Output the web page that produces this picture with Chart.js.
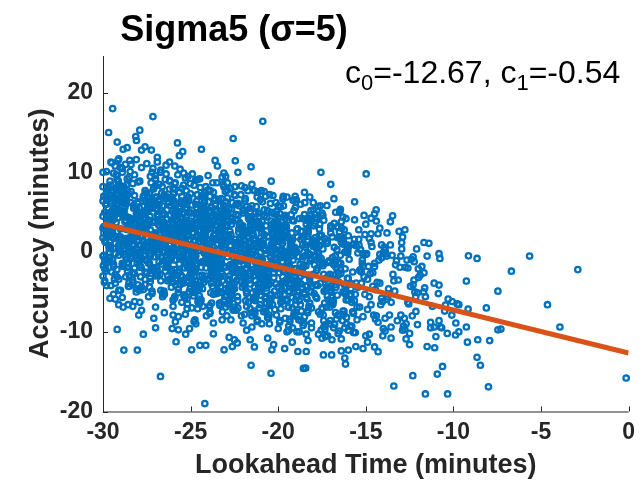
<!DOCTYPE html>
<html>
<head>
<meta charset="utf-8">
<script src="https://cdn.jsdelivr.net/npm/chart.js@4.4.1/dist/chart.umd.min.js"></script>
<style>
  html, body { margin: 0; padding: 0; background: #fff; }
  #wrap { width: 642px; height: 486px; }
</style>
</head>
<body>
<div id="wrap"><canvas id="sigmaChart"></canvas></div>
<script>
// lookahead time (x) and accuracy (y), one row per group of 10
const lookahead = [
  -29.9,-29.4,-29.7,-29.1,-29.5,-29.8,-29.2,-29.6,-29.3,-29.0,
  -29.3,-29.8,-29.1,-29.6,-29.0,-29.5,-29.9,-29.2,-29.7,-29.4,
  -29.6,-29.2,-29.9,-29.4,-29.8,-29.1,-29.5,-29.0,-29.3,-29.7,
  -29.1,-29.7,-29.4,-29.9,-29.2,-29.6,-29.0,-29.8,-29.5,-29.3,
  -29.8,-29.5,-29.0,-29.3,-29.7,-29.4,-29.9,-29.1,-29.6,-29.2,
  -29.4,-29.0,-29.6,-29.8,-29.3,-29.9,-29.1,-29.7,-29.2,-29.5,
  -29.7,-29.3,-29.5,-29.2,-29.9,-29.0,-29.4,-29.6,-29.1,-29.8,
  -28.6,-28.2,-28.9,-28.4,-28.8,-28.1,-28.5,-28.0,-28.3,-28.7,
  -28.8,-28.5,-28.0,-28.3,-28.7,-28.4,-28.9,-28.1,-28.6,-28.2,
  -28.7,-28.3,-28.5,-28.2,-28.9,-28.0,-28.4,-28.6,-28.1,-28.8,
  -28.3,-28.8,-28.1,-28.6,-28.0,-28.5,-28.9,-28.2,-28.7,-28.4,
  -28.1,-28.7,-28.4,-28.9,-28.2,-28.6,-28.0,-28.8,-28.5,-28.3,
  -28.4,-28.0,-28.6,-28.8,-28.3,-28.9,-28.1,-28.7,-28.2,-28.5,
  -28.9,-28.4,-28.7,-28.1,-28.5,-28.8,-28.2,-28.6,-28.3,-28.0,
  -27.8,-27.5,-27.0,-27.3,-27.7,-27.4,-27.9,-27.1,-27.6,-27.2,
  -27.9,-27.4,-27.7,-27.1,-27.5,-27.8,-27.2,-27.6,-27.3,-27.0,
  -27.4,-27.0,-27.6,-27.8,-27.3,-27.9,-27.1,-27.7,-27.2,-27.5,
  -27.3,-27.8,-27.1,-27.6,-27.0,-27.5,-27.9,-27.2,-27.7,-27.4,
  -27.7,-27.3,-27.5,-27.2,-27.9,-27.0,-27.4,-27.6,-27.1,-27.8,
  -27.6,-27.2,-27.9,-27.4,-27.8,-27.1,-27.5,-27.0,-27.3,-27.7,
  -27.1,-27.7,-27.4,-27.9,-27.2,-27.6,-27.0,-27.8,-27.5,-27.3,
  -26.7,-26.3,-26.5,-26.2,-26.9,-26.0,-26.4,-26.6,-26.1,-26.8,
  -26.4,-26.0,-26.6,-26.8,-26.3,-26.9,-26.1,-26.7,-26.2,-26.5,
  -26.8,-26.5,-26.0,-26.3,-26.7,-26.4,-26.9,-26.1,-26.6,-26.2,
  -26.1,-26.7,-26.4,-26.9,-26.2,-26.6,-26.0,-26.8,-26.5,-26.3,
  -26.6,-26.2,-26.9,-26.4,-26.8,-26.1,-26.5,-26.0,-26.3,-26.7,
  -26.3,-26.8,-26.1,-26.6,-26.0,-26.5,-26.9,-26.2,-26.7,-26.4,
  -26.9,-26.4,-26.7,-26.1,-26.5,-26.8,-26.2,-26.6,-26.3,-26.0,
  -25.3,-25.8,-25.1,-25.6,-25.0,-25.5,-25.9,-25.2,-25.7,-25.4,
  -25.1,-25.7,-25.4,-25.9,-25.2,-25.6,-25.0,-25.8,-25.5,-25.3,
  -25.4,-25.0,-25.6,-25.8,-25.3,-25.9,-25.1,-25.7,-25.2,-25.5,
  -25.9,-25.4,-25.7,-25.1,-25.5,-25.8,-25.2,-25.6,-25.3,-25.0,
  -25.6,-25.2,-25.9,-25.4,-25.8,-25.1,-25.5,-25.0,-25.3,-25.7,
  -25.8,-25.5,-25.0,-25.3,-25.7,-25.4,-25.9,-25.1,-25.6,-25.2,
  -25.7,-25.3,-25.5,-25.2,-25.9,-25.0,-25.4,-25.6,-25.1,-25.8,
  -24.1,-24.7,-24.4,-24.9,-24.2,-24.6,-24.0,-24.8,-24.5,-24.3,
  -24.7,-24.3,-24.5,-24.2,-24.9,-24.0,-24.4,-24.6,-24.1,-24.8,
  -24.6,-24.2,-24.9,-24.4,-24.8,-24.1,-24.5,-24.0,-24.3,-24.7,
  -24.4,-24.0,-24.6,-24.8,-24.3,-24.9,-24.1,-24.7,-24.2,-24.5,
  -24.3,-24.8,-24.1,-24.6,-24.0,-24.5,-24.9,-24.2,-24.7,-24.4,
  -24.8,-24.5,-24.0,-24.3,-24.7,-24.4,-24.9,-24.1,-24.6,-24.2,
  -24.9,-24.4,-24.7,-24.1,-24.5,-24.8,-24.2,-24.6,-24.3,-24.0,
  -23.4,-23.0,-23.6,-23.8,-23.3,-23.9,-23.1,-23.7,-23.2,-23.5,
  -23.6,-23.2,-23.9,-23.4,-23.8,-23.1,-23.5,-23.0,-23.3,-23.7,
  -23.9,-23.4,-23.7,-23.1,-23.5,-23.8,-23.2,-23.6,-23.3,-23.0,
  -23.8,-23.5,-23.0,-23.3,-23.7,-23.4,-23.9,-23.1,-23.6,-23.2,
  -23.7,-23.3,-23.5,-23.2,-23.9,-23.0,-23.4,-23.6,-23.1,-23.8,
  -23.1,-23.7,-23.4,-23.9,-23.2,-23.6,-23.0,-23.8,-23.5,-23.3,
  -23.3,-23.8,-23.1,-23.6,-23.0,-23.5,-23.9,-23.2,-23.7,-23.4,
  -22.8,-22.5,-22.0,-22.3,-22.7,-22.4,-22.9,-22.1,-22.6,-22.2,
  -22.6,-22.2,-22.9,-22.4,-22.8,-22.1,-22.5,-22.0,-22.3,-22.7,
  -22.9,-22.4,-22.7,-22.1,-22.5,-22.8,-22.2,-22.6,-22.3,-22.0,
  -22.4,-22.0,-22.6,-22.8,-22.3,-22.9,-22.1,-22.7,-22.2,-22.5,
  -22.1,-22.7,-22.4,-22.9,-22.2,-22.6,-22.0,-22.8,-22.5,-22.3,
  -22.3,-22.8,-22.1,-22.6,-22.0,-22.5,-22.9,-22.2,-22.7,-22.4,
  -21.3,-21.8,-21.1,-21.6,-21.0,-21.5,-21.9,-21.2,-21.7,-21.4,
  -21.4,-21.0,-21.6,-21.8,-21.3,-21.9,-21.1,-21.7,-21.2,-21.5,
  -21.1,-21.7,-21.4,-21.9,-21.2,-21.6,-21.0,-21.8,-21.5,-21.3,
  -21.9,-21.4,-21.7,-21.1,-21.5,-21.8,-21.2,-21.6,-21.3,-21.0,
  -21.7,-21.3,-21.5,-21.2,-21.9,-21.0,-21.4,-21.6,-21.1,-21.8,
  -21.6,-21.2,-21.9,-21.4,-21.8,-21.1,-21.5,-21.0,-21.3,-21.7,
  -20.1,-20.7,-20.4,-20.9,-20.2,-20.6,-20.0,-20.8,-20.5,-20.3,
  -20.9,-20.4,-20.7,-20.1,-20.5,-20.8,-20.2,-20.6,-20.3,-20.0,
  -20.7,-20.3,-20.5,-20.2,-20.9,-20.0,-20.4,-20.6,-20.1,-20.8,
  -20.6,-20.2,-20.9,-20.4,-20.8,-20.1,-20.5,-20.0,-20.3,-20.7,
  -20.8,-20.5,-20.0,-20.3,-20.7,-20.4,-20.9,-20.1,-20.6,-20.2,
  -19.4,-19.0,-19.6,-19.8,-19.3,-19.9,-19.1,-19.7,-19.2,-19.5,
  -19.3,-19.8,-19.1,-19.6,-19.0,-19.5,-19.9,-19.2,-19.7,-19.4,
  -19.8,-19.5,-19.0,-19.3,-19.7,-19.4,-19.9,-19.1,-19.6,-19.2,
  -19.7,-19.3,-19.5,-19.2,-19.9,-19.0,-19.4,-19.6,-19.1,-19.8,
  -19.9,-19.4,-19.7,-19.1,-19.5,-19.8,-19.2,-19.6,-19.3,-19.0,
  -18.6,-18.2,-18.9,-18.4,-18.8,-18.1,-18.5,-18.0,-18.3,-18.7,
  -18.7,-18.3,-18.5,-18.2,-18.9,-18.0,-18.4,-18.6,-18.1,-18.8,
  -18.3,-18.8,-18.1,-18.6,-18.0,-18.5,-18.9,-18.2,-18.7,-18.4,
  -18.4,-18.0,-18.6,-18.8,-18.3,-18.9,-18.1,-18.7,-18.2,-18.5,
  -17.8,-17.5,-17.0,-17.3,-17.7,-17.4,-17.9,-17.1,-17.6,-17.2,
  -17.1,-17.7,-17.4,-17.9,-17.2,-17.6,-17.0,-17.8,-17.5,-17.3,
  -17.9,-17.4,-17.7,-17.1,-17.5,-17.8,-17.2,-17.6,-17.3,-17.0,
  -16.7,-16.3,-16.5,-16.2,-16.9,-16.0,-16.4,-16.6,-16.1,-16.8,
  -16.3,-16.8,-16.1,-16.6,-16.0,-16.5,-16.9,-16.2,-16.7,-16.4,
  -16.4,-16.0,-16.6,-16.8,-16.3,-16.9,-16.1,-16.7,-16.2,-16.5,
  -15.1,-15.7,-15.4,-15.9,-15.2,-15.6,-15.0,-15.8,-15.5,-15.3,
  -15.6,-15.2,-15.9,-15.4,-15.8,-15.1,-15.5,-15.0,-15.3,-15.7,
  -14.9,-14.4,-14.7,-14.1,-14.5,-14.8,-14.2,-14.6,-14.3,-14.0,
  -14.8,-14.5,-14.0,-14.3,-14.7,-14.4,-14.9,-14.1,-14.6,-14.2,
  -13.4,-13.0,-13.6,-13.8,-13.3,-13.9,-13.1,-13.7,-13.2,-13.5,
  -12.3,-12.8,-12.1,-12.6,-12.0,-12.5,-12.9,-12.2,-12.7,-12.4,
  -11.7,-11.3,-11.5,-11.2,-11.9,-11.0,-11.4,-11.6,-11.1,-11.8,
  // dense middle of the cloud
  -29.45,-29.85,-29.15,-29.65,-29.35,-29.95,-29.05,-29.75,-29.25,-29.55,
  -29.75,-29.05,-29.55,-29.25,-29.95,-29.35,-29.65,-29.15,-29.85,-29.45,
  -29.15,-29.55,-29.85,-29.35,-29.05,-29.65,-29.95,-29.45,-29.75,-29.25,
  -28.15,-28.55,-28.85,-28.35,-28.05,-28.65,-28.95,-28.45,-28.75,-28.25,
  -28.45,-28.85,-28.15,-28.65,-28.35,-28.95,-28.05,-28.75,-28.25,-28.55,
  -28.75,-28.05,-28.55,-28.25,-28.95,-28.35,-28.65,-28.15,-28.85,-28.45,
  -27.75,-27.05,-27.55,-27.25,-27.95,-27.35,-27.65,-27.15,-27.85,-27.45,
  -27.15,-27.55,-27.85,-27.35,-27.05,-27.65,-27.95,-27.45,-27.75,-27.25,
  -27.45,-27.85,-27.15,-27.65,-27.35,-27.95,-27.05,-27.75,-27.25,-27.55,
  -26.45,-26.85,-26.15,-26.65,-26.35,-26.95,-26.05,-26.75,-26.25,-26.55,
  -26.75,-26.05,-26.55,-26.25,-26.95,-26.35,-26.65,-26.15,-26.85,-26.45,
  -26.15,-26.55,-26.85,-26.35,-26.05,-26.65,-26.95,-26.45,-26.75,-26.25,
  -25.15,-25.55,-25.85,-25.35,-25.05,-25.65,-25.95,-25.45,-25.75,-25.25,
  -25.45,-25.85,-25.15,-25.65,-25.35,-25.95,-25.05,-25.75,-25.25,-25.55,
  -25.75,-25.05,-25.55,-25.25,-25.95,-25.35,-25.65,-25.15,-25.85,-25.45,
  -24.75,-24.05,-24.55,-24.25,-24.95,-24.35,-24.65,-24.15,-24.85,-24.45,
  -24.15,-24.55,-24.85,-24.35,-24.05,-24.65,-24.95,-24.45,-24.75,-24.25,
  -24.45,-24.85,-24.15,-24.65,-24.35,-24.95,-24.05,-24.75,-24.25,-24.55,
  -23.45,-23.85,-23.15,-23.65,-23.35,-23.95,-23.05,-23.75,-23.25,-23.55,
  -23.75,-23.05,-23.55,-23.25,-23.95,-23.35,-23.65,-23.15,-23.85,-23.45,
  -23.15,-23.55,-23.85,-23.35,-23.05,-23.65,-23.95,-23.45,-23.75,-23.25,
  -22.15,-22.55,-22.85,-22.35,-22.05,-22.65,-22.95,-22.45,-22.75,-22.25,
  -22.45,-22.85,-22.15,-22.65,-22.35,-22.95,-22.05,-22.75,-22.25,-22.55,
  -22.75,-22.05,-22.55,-22.25,-22.95,-22.35,-22.65,-22.15,-22.85,-22.45,
  -21.75,-21.05,-21.55,-21.25,-21.95,-21.35,-21.65,-21.15,-21.85,-21.45,
  -21.15,-21.55,-21.85,-21.35,-21.05,-21.65,-21.95,-21.45,-21.75,-21.25,
  -21.45,-21.85,-21.15,-21.65,-21.35,-21.95,-21.05,-21.75,-21.25,-21.55,
  -20.45,-20.85,-20.15,-20.65,-20.35,-20.95,-20.05,-20.75,-20.25,-20.55,
  -20.75,-20.05,-20.55,-20.25,-20.95,-20.35,-20.65,-20.15,-20.85,-20.45,
  -20.15,-20.55,-20.85,-20.35,-20.05,-20.65,-20.95,-20.45,-20.75,-20.25,
  -19.15,-19.55,-19.85,-19.35,-19.05,-19.65,-19.95,-19.45,-19.75,-19.25,
  -19.45,-19.85,-19.15,-19.65,-19.35,-19.95,-19.05,-19.75,-19.25,-19.55,
  -19.75,-19.05,-19.55,-19.25,-19.95,-19.35,-19.65,-19.15,-19.85,-19.45,
  -18.75,-18.05,-18.55,-18.25,-18.95,-18.35,-18.65,-18.15,-18.85,-18.45,
  -18.45,-18.85,-18.15,-18.65,-18.35,-18.95,-18.05,-18.75,-18.25,-18.55,
  -17.15,-17.55,-17.85,-17.35,-17.05,-17.65,-17.95,-17.45,-17.75,-17.25,
  -17.75,-17.05,-17.55,-17.25,-17.95,-17.35,-17.65,-17.15,-17.85,-17.45,
  -16.45,-16.85,-16.15,-16.65,-16.35,-16.95,-16.05,-16.75,-16.25,-16.55,
  -16.15,-16.55,-16.85,-16.35,-16.05,-16.65,-16.95,-16.45,-16.75,-16.25,
  -15.75,-15.05,-15.55,-15.25,-15.95,-15.35,-15.65,-15.15,-15.85,-15.45,
  -15.15,-15.55,-15.85,-15.35,-15.05,-15.65,-15.95,-15.45,-15.75,-15.25,
  -14.45,-14.85,-14.15,-14.65,-14.35,-14.95,-14.05,-14.75,-14.25,-14.55,
  -13.15,-13.55,-13.85,-13.35,-13.05,-13.65,-13.95,-13.45,-13.75,-13.25,
  -12.75,-12.05,-12.55,-12.25,-12.95,-12.35,-12.65,-12.15,-12.85,-12.45,
  // scattered points
  -29.45,-27.15,-20.88,-29.68,-27.9,-29.19,-28.13,-28.09,-25.75,-22.57,
  -24.38,-28.85,-28.62,-27.8,-27.6,-27.24,-25.45,-25.64,-23.6,-23.47,
  -22.45,-21.55,-20.4,-26.2,-29.55,-28.47,-21.36,-20.96,-17.56,-14.98,
  -22.3,-17.0,-19.71,-19.03,-18.97,-18.5,-18.2,-16.82,-15.64,-17.22,
  -16.45,-14.41,-14.5,-14.7,-13.47,-13.6,-15.64,-12.77,-13.79,-11.68,
  -12.95,-14.7,-14.8,-15.39,-16.0,-16.6,-16.4,-17.0,-16.8,-17.9,
  -17.8,-18.8,-18.3,-17.4,-14.1,-13.9,-13.8,-14.2,-13.0,-12.3,
  -12.6,-12.0,-11.68,-11.1,-12.24,-11.64,-12.14,-10.82,-10.77,-9.14,
  -8.65,-5.65,-6.69,-2.9,-9.26,-10.82,-10.86,-7.46,-10.07,-9.78,
  -9.69,-10.45,-9.16,-8.12,-4.63,-10.82,-10.09,-9.86,-10.67,-10.35,
  -9.88,-9.69,-9.26,-7.46,-7.29,-3.92,-9.2,-8.61,-7.93,-8.65,
  -8.46,-10.62,-10.92,-8.0,-10.33,-0.14,-13.4,-11.6,-24.19,-29.98,
  -29.19,-28.81,-28.04,-27.7,-26.72,-27.0,-24.94,-24.47,-24.13,-23.09,
  -21.55,-20.41,-25.83,-23.7,-25.06,-25.28,-26.05,-25.7,-22.62,-22.34,
  -21.36,-20.36,-20.26,-22.8,-22.5,-21.6,-20.6,-29.6,-29.1,-29.55,
  -29.85,-29.1,-28.85,-28.57,-27.96,-27.1,-25.87,-24.75,-18.56,-18.43,
  -12.32,-16.16,-16.2,-17.42,-16.95,-18.88,-18.4,-19.63,-16.0,-16.4,
  -15.57,-15.16,-14.3,-14.5,-13.56,-14.03,-12.7,-12.5,-11.5,-11.07,
  -11.3,-10.73,-12.05,-12.9,-12.77,-13.56,-14.45,-13.9,-15.16,-15.8,
  -15.7,-15.0,-14.9,-17.7,-17.5,-18.4,-18.3,-19.5,-19.2,-10.5,
  -10.3,-30.0,-30.0,-30.0,-30.0,-30.0,-30.0,-30.0,-30.0,-29.95,
  // more of the dense middle
  -29.25,-29.65,-29.05,-29.85,-29.45,-29.15,-29.95,-29.55,-29.35,-29.75,
  -29.62,-29.12,-29.82,-29.32,-29.02,-29.72,-29.22,-29.92,-29.52,-29.42,
  -28.62,-28.12,-28.82,-28.32,-28.02,-28.72,-28.22,-28.92,-28.52,-28.42,
  -28.25,-28.65,-28.05,-28.85,-28.45,-28.15,-28.95,-28.55,-28.35,-28.75,
  -27.25,-27.65,-27.05,-27.85,-27.45,-27.15,-27.95,-27.55,-27.35,-27.75,
  -27.62,-27.12,-27.82,-27.32,-27.02,-27.72,-27.22,-27.92,-27.52,-27.42,
  -26.62,-26.12,-26.82,-26.32,-26.02,-26.72,-26.22,-26.92,-26.52,-26.42,
  -26.25,-26.65,-26.05,-26.85,-26.45,-26.15,-26.95,-26.55,-26.35,-26.75,
  -25.25,-25.65,-25.05,-25.85,-25.45,-25.15,-25.95,-25.55,-25.35,-25.75,
  -25.62,-25.12,-25.82,-25.32,-25.02,-25.72,-25.22,-25.92,-25.52,-25.42,
  -24.62,-24.12,-24.82,-24.32,-24.02,-24.72,-24.22,-24.92,-24.52,-24.42,
  -24.25,-24.65,-24.05,-24.85,-24.45,-24.15,-24.95,-24.55,-24.35,-24.75,
  -23.25,-23.65,-23.05,-23.85,-23.45,-23.15,-23.95,-23.55,-23.35,-23.75,
  -23.62,-23.12,-23.82,-23.32,-23.02,-23.72,-23.22,-23.92,-23.52,-23.42,
  -22.62,-22.12,-22.82,-22.32,-22.02,-22.72,-22.22,-22.92,-22.52,-22.42,
  -22.25,-22.65,-22.05,-22.85,-22.45,-22.15,-22.95,-22.55,-22.35,-22.75,
  -21.25,-21.65,-21.05,-21.85,-21.45,-21.15,-21.95,-21.55,-21.35,-21.75,
  -21.62,-21.12,-21.82,-21.32,-21.02,-21.72,-21.22,-21.92,-21.52,-21.42,
  -20.62,-20.12,-20.82,-20.32,-20.02,-20.72,-20.22,-20.92,-20.52,-20.42,
  -20.25,-20.65,-20.05,-20.85,-20.45,-20.15,-20.95,-20.55,-20.35,-20.75,
  -19.25,-19.65,-19.05,-19.85,-19.45,-19.15,-19.95,-19.55,-19.35,-19.75,
  -19.62,-19.12,-19.82,-19.32,-19.02,-19.72,-19.22,-19.92,-19.52,-19.42,
  -18.62,-18.12,-18.82,-18.32,-18.02,-18.72,-18.22,-18.92,-18.52,-18.42,
  -17.25,-17.65,-17.05,-17.85,-17.45,-17.15,-17.95,-17.55,-17.35,-17.75,
  -16.62,-16.12,-16.82,-16.32,-16.02,-16.72,-16.22,-16.92,-16.52,-16.42,
  // still more of the middle
  -25.08,-25.58,-25.38,-25.88,-25.18,-25.68,-25.48,-25.98,-25.28,-25.78,
  -25.83,-25.33,-25.63,-25.13,-25.93,-25.43,-25.73,-25.23,-25.53,-25.03,
  -24.83,-24.33,-24.63,-24.13,-24.93,-24.43,-24.73,-24.23,-24.53,-24.03,
  -24.08,-24.58,-24.38,-24.88,-24.18,-24.68,-24.48,-24.98,-24.28,-24.78,
  -23.08,-23.58,-23.38,-23.88,-23.18,-23.68,-23.48,-23.98,-23.28,-23.78,
  -23.83,-23.33,-23.63,-23.13,-23.93,-23.43,-23.73,-23.23,-23.53,-23.03,
  -22.83,-22.33,-22.63,-22.13,-22.93,-22.43,-22.73,-22.23,-22.53,-22.03,
  -22.08,-22.58,-22.38,-22.88,-22.18,-22.68,-22.48,-22.98,-22.28,-22.78,
  -21.08,-21.58,-21.38,-21.88,-21.18,-21.68,-21.48,-21.98,-21.28,-21.78,
  -21.83,-21.33,-21.63,-21.13,-21.93,-21.43,-21.73,-21.23,-21.53,-21.03,
  -20.83,-20.33,-20.63,-20.13,-20.93,-20.43,-20.73,-20.23,-20.53,-20.03,
  -20.08,-20.58,-20.38,-20.88,-20.18,-20.68,-20.48,-20.98,-20.28,-20.78,
  -19.08,-19.58,-19.38,-19.88,-19.18,-19.68,-19.48,-19.98,-19.28,-19.78,
  -19.83,-19.33,-19.63,-19.13,-19.93,-19.43,-19.73,-19.23,-19.53,-19.03,
  -18.83,-18.33,-18.63,-18.13,-18.93,-18.43,-18.73,-18.23,-18.53,-18.03,
  -18.08,-18.58,-18.38,-18.88,-18.18,-18.68,-18.48,-18.98,-18.28,-18.78,
  -17.08,-17.58,-17.38,-17.88,-17.18,-17.68,-17.48,-17.98,-17.28,-17.78,
  -17.83,-17.33,-17.63,-17.13,-17.93,-17.43,-17.73,-17.23,-17.53,-17.03,
  -16.83,-16.33,-16.63,-16.13,-16.93,-16.43,-16.73,-16.23,-16.53,-16.03,
  -16.08,-16.58,-16.38,-16.88,-16.18,-16.68,-16.48,-16.98,-16.28,-16.78
];

const accuracy = [
  3.2,-1.5,7.8,0.4,5.1,-4.2,9.6,2.1,-2.8,6.3,
  1.1,4.7,-3.4,8.9,0.0,11.2,-0.9,5.8,3.9,-5.3,
  7.1,2.6,-2.1,4.3,10.1,-0.4,6.7,1.6,-3.9,8.2,
  0.9,5.5,3.1,-1.2,9.1,2.4,-4.8,7.4,4.6,-0.2,
  6.0,-2.5,1.9,10.8,3.6,-1.8,5.0,8.5,0.6,-3.1,
  4.1,2.9,-0.7,6.9,-5.9,1.4,11.7,3.4,-2.2,7.7,
  -1.0,8.0,2.2,5.3,-3.6,0.2,9.9,4.9,1.7,6.5,
  2.8,-2.0,7.5,0.1,4.8,-5.0,9.4,1.5,-3.5,6.0,
  0.5,4.3,-4.1,8.6,-0.6,11.0,-1.6,5.4,3.3,-6.2,
  6.8,2.0,-2.9,3.7,10.0,-1.0,6.2,1.2,-4.6,7.9,
  0.3,5.1,2.6,-1.9,8.8,1.8,-5.7,7.1,4.0,-0.8,
  5.6,-3.1,1.4,10.5,3.1,-2.4,4.5,8.2,0.0,-3.8,
  3.6,2.4,-1.3,6.5,-6.8,0.8,11.6,2.9,-2.7,7.3,
  -1.4,7.6,1.7,4.9,-4.3,-0.3,9.7,4.4,1.0,6.1,
  1.9,-2.6,6.9,-0.5,4.2,-5.6,8.9,0.9,-4.1,5.5,
  0.0,3.9,-4.7,8.1,-1.1,10.6,-2.1,4.9,2.8,-6.9,
  6.3,1.5,-3.4,3.2,9.5,-1.6,5.8,0.6,-5.2,7.4,
  -0.2,4.6,2.1,-2.5,8.3,1.2,-6.3,6.6,3.5,-1.4,
  5.1,-3.7,0.8,10.0,2.6,-3.0,4.0,7.7,-0.6,-4.4,
  3.0,1.9,-1.9,6.0,-7.3,0.3,11.1,2.4,-3.3,6.8,
  -2.0,7.0,1.2,4.4,-4.9,-0.9,9.2,3.8,0.5,5.6,
  2.4,-3.0,7.2,-0.1,4.7,-6.0,9.8,1.3,-4.4,5.9,
  -0.4,3.5,-5.1,8.5,-1.5,11.3,-2.4,5.2,2.5,-7.6,
  6.6,1.0,-3.8,3.0,10.3,-1.9,5.4,0.2,-5.6,7.9,
  -0.7,4.2,1.8,-2.8,8.9,1.5,-6.8,6.3,3.2,-1.8,
  4.7,-3.4,0.4,10.9,2.2,-3.3,3.7,8.0,-1.0,-4.8,
  2.7,1.6,-2.2,5.8,-7.9,0.0,11.9,2.0,-3.6,7.0,
  -2.3,6.7,0.9,4.0,-5.3,-1.2,9.0,3.4,0.1,5.3,
  1.6,-3.3,6.5,-0.8,3.9,-6.3,8.6,0.6,-4.7,5.0,
  -0.9,3.1,-5.4,7.9,-1.8,10.4,-2.8,4.5,2.0,-7.8,
  5.9,0.7,-4.1,2.6,9.3,-2.2,5.0,-0.2,-5.9,7.0,
  -1.0,3.8,1.4,-3.1,8.0,0.9,-7.1,5.7,2.8,-2.1,
  4.3,-3.8,0.0,9.9,1.8,-3.6,3.3,7.3,-1.3,-5.1,
  2.2,1.1,-2.6,5.4,-8.1,-0.4,10.8,1.6,-4.0,6.4,
  -2.6,6.2,0.4,3.6,-5.6,-1.5,8.4,2.9,-0.3,4.8,
  0.7,-4.2,5.6,-1.8,3.0,-7.1,7.8,-0.4,-5.5,4.1,
  -1.7,2.3,-6.3,7.0,-2.7,9.6,-3.6,3.6,1.1,-8.7,
  4.9,-0.1,-4.9,1.7,8.4,-3.0,4.2,-1.0,-6.8,6.0,
  -1.9,2.9,0.5,-4.0,7.1,0.0,-8.0,4.8,1.9,-3.0,
  3.4,-4.7,-0.8,9.1,0.9,-4.5,2.4,6.3,-2.2,-6.0,
  1.3,0.2,-3.4,4.5,-9.0,-1.3,9.8,0.8,-4.8,5.5,
  -3.5,5.3,-0.5,2.7,-6.5,-2.4,7.4,2.0,-1.2,3.9,
  0.3,-4.6,5.9,-1.4,3.4,-7.5,8.2,-0.8,-5.1,4.4,
  -2.1,2.6,-6.7,6.6,-3.1,9.9,-3.2,3.2,1.5,-8.9,
  5.2,-0.5,-5.3,1.3,8.7,-2.6,4.6,-1.4,-6.4,6.3,
  -2.3,3.3,0.9,-4.4,7.5,-0.4,-7.7,5.1,2.3,-2.7,
  3.8,-5.0,-0.4,9.4,0.5,-4.1,2.8,6.7,-1.8,-6.4,
  0.9,0.6,-3.8,4.9,-8.5,-0.9,9.5,1.2,-5.2,5.8,
  -3.1,5.6,-0.1,2.3,-6.9,-2.0,7.0,1.6,-1.6,4.3,
  0.2,-4.6,4.9,-2.5,2.2,-7.3,6.8,-0.9,-5.8,3.4,
  -1.9,1.7,-6.5,6.0,-3.0,8.3,-3.9,2.8,0.9,-8.5,
  4.1,-0.4,-5.1,1.2,7.2,-3.4,3.7,-1.5,-7.0,5.2,
  -2.1,2.5,0.0,-4.3,6.1,-0.6,-8.0,4.4,1.5,-3.2,
  3.1,-5.5,-1.1,7.8,0.6,-4.8,2.0,5.5,-2.4,-6.1,
  1.1,-0.1,-3.7,3.9,-8.9,-1.6,8.7,0.4,-5.2,4.7,
  -0.4,-5.2,4.5,-3.0,1.8,-8.0,6.4,-1.4,-6.3,3.0,
  -2.5,1.3,-7.1,5.7,-3.6,8.1,-4.5,2.4,0.5,-9.4,
  3.7,-0.9,-5.7,0.8,6.9,-4.0,3.3,-2.0,-7.6,4.9,
  -2.7,2.1,-0.5,-4.9,5.8,-1.1,-8.7,4.1,1.1,-3.8,
  2.7,-6.1,-1.6,7.5,0.2,-5.4,1.6,5.1,-3.0,-6.8,
  0.6,-0.6,-4.3,3.5,-9.8,-2.1,8.5,0.0,-5.8,4.3,
  -0.8,-5.6,3.9,-3.4,1.3,-8.2,5.8,-1.9,-6.7,2.6,
  -3.0,0.9,-7.4,5.1,-4.0,7.6,-4.9,2.0,0.1,-9.6,
  3.3,-1.4,-6.1,0.4,6.3,-4.4,2.9,-2.5,-7.9,4.5,
  -3.2,1.7,-1.0,-5.3,5.3,-1.6,-9.0,3.6,0.7,-4.2,
  2.2,-6.5,-2.0,7.1,-0.2,-5.8,1.1,4.7,-3.5,-7.2,
  -1.3,-6.0,3.4,-3.9,0.8,-8.6,5.2,-2.3,-7.0,2.1,
  -3.5,0.4,-7.8,4.6,-4.5,6.9,-5.3,1.5,-0.4,-9.8,
  2.8,-1.8,-6.6,-0.1,5.8,-4.9,2.4,-3.0,-8.3,4.0,
  -3.7,1.2,-1.5,-5.7,4.8,-2.1,-9.3,3.1,0.2,-4.7,
  1.7,-6.9,-2.4,6.5,-0.7,-6.2,0.6,4.2,-4.0,-7.5,
  -1.8,-6.4,2.9,-4.3,0.3,-8.9,4.7,-2.8,-7.3,1.6,
  -4.0,-0.1,-8.1,4.1,-5.0,6.2,-5.7,1.0,-0.9,-10.0,
  2.3,-2.3,-7.0,-0.6,5.3,-5.3,1.9,-3.4,-8.6,3.5,
  -4.2,0.7,-2.0,-6.1,4.3,-2.6,-9.5,2.6,-0.3,-5.1,
  -2.3,-7.0,2.4,-4.8,-0.2,-9.4,4.3,-3.3,-7.8,1.1,
  -4.5,-0.6,-8.6,3.6,-5.5,5.8,-6.2,0.5,-1.4,-10.6,
  1.8,-2.8,-7.5,-1.1,4.9,-5.8,1.4,-3.9,-9.1,3.0,
  -2.8,-7.4,1.9,-5.2,-0.7,-9.8,3.8,-3.7,-8.2,0.6,
  -5.0,-1.1,-9.0,3.1,-6.0,5.0,-6.6,0.0,-1.9,-10.9,
  1.3,-3.3,-7.9,-1.6,4.4,-6.3,0.9,-4.4,-9.5,2.5,
  -3.1,-7.7,1.6,-5.5,-1.0,-10.1,3.5,-4.0,-8.5,0.3,
  -5.3,-1.4,-9.3,2.8,-6.3,4.6,-6.9,-0.3,-2.2,1.0,
  -3.4,-8.0,1.2,-5.8,-1.4,-10.3,3.0,-4.3,-8.8,-0.1,
  -5.6,-1.8,-9.6,2.3,-6.6,3.9,-7.2,-0.7,-2.6,-3.9,
  -3.6,-7.9,0.9,-5.9,-1.6,-9.9,2.6,-4.6,-8.6,-0.4,
  -4.1,-8.3,0.4,-6.3,-2.1,-10.2,1.9,-5.0,-9.0,-0.9,
  -5.0,-8.8,-0.5,-6.8,-2.9,-10.6,1.1,-5.6,-9.4,-1.8,
  // dense middle of the cloud
  4.0,1.2,7.3,2.6,5.6,-0.4,8.1,4.7,1.9,6.4,
  2.3,5.2,0.4,7.7,3.2,6.8,0.8,4.3,6.0,-0.9,
  6.1,2.9,1.5,4.5,8.4,0.0,7.0,2.4,-1.3,3.7,
  3.5,0.7,6.8,2.1,5.1,-0.9,7.6,4.2,1.4,5.9,
  1.8,4.7,-0.1,7.2,2.7,6.3,0.3,3.8,5.5,-1.4,
  5.6,2.4,1.0,4.0,7.9,-0.5,6.5,1.9,-1.8,3.2,
  3.0,0.2,6.3,1.6,4.6,-1.4,7.1,3.7,0.9,5.4,
  1.3,4.2,-0.6,6.7,2.2,5.8,-0.2,3.3,5.0,-1.9,
  5.1,1.9,0.5,3.5,7.4,-1.0,6.0,1.4,-2.3,2.7,
  2.5,-0.3,5.8,1.1,4.1,-1.9,6.6,3.2,0.4,4.9,
  0.8,3.7,-1.1,6.2,1.7,5.3,-0.7,2.8,4.5,-2.4,
  4.6,1.4,0.0,3.0,6.9,-1.5,5.5,0.9,-2.8,2.2,
  2.0,-0.8,5.3,0.6,3.6,-2.4,6.1,2.7,-0.1,4.4,
  0.3,3.2,-1.6,5.7,1.2,4.8,-1.2,2.3,4.0,-2.9,
  4.1,0.9,-0.5,2.5,6.4,-2.0,5.0,0.4,-3.3,1.7,
  1.5,-1.3,4.8,0.1,3.1,-2.9,5.6,2.2,-0.6,3.9,
  -0.2,2.7,-2.1,5.2,0.7,4.3,-1.7,1.8,3.5,-3.4,
  3.6,0.4,-1.0,2.0,5.9,-2.5,4.5,-0.1,-3.8,1.2,
  1.0,-1.8,4.3,-0.4,2.6,-3.4,5.1,1.7,-1.1,3.4,
  -0.7,2.2,-2.6,4.7,0.2,3.8,-2.2,1.3,3.0,-3.9,
  3.1,-0.1,-1.5,1.5,5.4,-3.0,4.0,-0.6,-4.3,0.7,
  0.5,-2.3,3.8,-0.9,2.1,-3.9,4.6,1.2,-1.6,2.9,
  -1.2,1.7,-3.1,4.2,-0.3,3.3,-2.7,0.8,2.5,-4.4,
  2.6,-0.6,-2.0,1.0,4.9,-3.5,3.5,-1.1,-4.8,0.2,
  0.0,-2.8,3.3,-1.4,1.6,-4.4,4.1,0.7,-2.1,2.4,
  -1.7,1.2,-3.6,3.7,-0.8,2.8,-3.2,0.3,2.0,-4.9,
  2.1,-1.1,-2.5,0.5,4.4,-4.0,3.0,-1.6,-5.3,-0.3,
  -0.5,-3.3,2.8,-1.9,1.1,-4.9,3.6,0.2,-2.6,1.9,
  -2.2,0.7,-4.1,3.2,-1.3,2.3,-3.7,-0.2,1.5,-5.4,
  1.6,-1.6,-3.0,0.0,3.9,-4.5,2.5,-2.1,-5.8,-0.8,
  -1.0,-3.8,2.3,-2.4,0.6,-5.4,3.1,-0.3,-3.1,1.4,
  -2.7,0.2,-4.6,2.7,-1.8,1.8,-4.2,-0.7,1.0,-5.9,
  1.1,-2.1,-3.5,-0.5,3.4,-5.0,2.0,-2.6,-6.3,-1.3,
  -1.5,-4.3,1.8,-2.9,0.1,-5.9,2.6,-0.8,-3.6,0.9,
  0.6,-2.6,-4.0,-1.0,2.9,-5.5,1.5,-3.1,-6.8,-1.8,
  -3.7,-0.8,-5.6,1.7,-2.8,0.8,-5.2,-1.7,0.0,-6.9,
  -2.0,-4.8,1.3,-3.4,-0.4,-6.4,2.1,-1.3,-4.1,0.4,
  -0.4,-3.6,-5.0,-2.0,1.9,-6.5,0.5,-4.1,-7.8,-2.8,
  -4.2,-1.3,-6.1,1.2,-3.3,0.3,-5.7,-2.2,-0.5,-7.4,
  -2.5,-5.3,0.8,-3.9,-0.9,-6.9,1.6,-1.8,-4.6,-0.1,
  -0.2,-3.9,-5.3,-2.3,2.2,-6.1,0.8,-4.4,-7.5,-2.5,
  -4.7,-1.8,-6.6,0.7,-3.8,-0.2,-6.2,-2.7,-1.0,-7.9,
  -3.5,-6.3,-0.2,-4.9,-1.9,-7.9,0.6,-2.8,-5.6,-1.1,
  -1.9,-5.1,-6.5,-3.5,0.4,-8.0,-1.0,-5.6,-9.3,-4.3,
  // scattered points
  18.0,17.0,16.4,15.0,15.3,13.8,14.5,14.0,13.7,14.25,
  12.9,12.9,13.1,12.8,13.2,12.8,12.6,12.1,11.5,10.8,
  11.45,10.7,8.9,11.3,11.3,11.5,7.7,7.7,10.0,9.8,
  10.0,8.5,7.0,7.0,6.6,7.5,6.9,6.7,6.3,5.85,
  5.35,5.3,4.8,4.25,4.55,3.8,4.05,2.8,2.4,1.2,
  1.2,2.3,1.7,0.9,2.05,1.8,1.6,3.3,3.6,4.7,
  4.2,4.2,4.2,4.0,0.9,0.3,-0.5,-0.3,-0.5,-0.6,
  -2.0,-3.2,-2.6,-3.9,-1.2,-4.5,-7.45,-0.2,-0.8,-0.47,
  -0.8,-0.5,-2.4,-2.2,-3.64,-4.14,-5.2,-4.9,-6.2,-6.5,
  -6.6,-6.65,-7.15,-7.0,-6.6,-8.6,-7.9,-8.9,-9.5,-10.2,
  -10.4,-10.0,-9.4,-9.75,-9.66,-9.4,-11.3,-11.0,-11.1,-13.2,
  -14.2,-14.35,-15.3,-16.9,-17.8,-15.8,-16.8,-17.8,-19.0,-1.7,
  -9.7,-12.3,-12.3,-10.3,-15.6,-9.5,-12.26,-11.7,-11.7,-12.26,
  -14.2,-15.2,-11.25,-10.25,-9.6,-10.3,-9.6,-9.75,-11.85,-11.4,
  -11.9,-12.26,-11.6,-10.7,-11.0,-11.0,-10.8,-5.8,-4.8,-4.2,
  -2.4,-6.6,-6.9,-6.6,-7.9,-8.3,-8.75,-8.5,-14.6,-14.55,
  -15.5,-14.05,-13.3,-12.9,-12.9,-12.47,-12.47,-12.1,-12.3,-12.4,
  -11.85,-12.1,-12.5,-11.9,-10.8,-10.5,-10.9,-11.6,-11.85,-12.0,
  -9.5,-9.4,-9.1,-9.8,-9.7,-9.4,-8.4,-8.3,-8.1,-9.3,
  -10.1,-10.5,-11.3,-10.3,-10.8,-10.3,-11.1,-10.0,-11.3,-7.4,
  -5.9,4.5,8.2,-0.5,1.8,6.4,10.0,-3.0,3.0,7.0,
  // more of the dense middle
  9.7,0.5,4.9,-2.1,6.8,11.5,2.4,8.4,-3.4,3.8,
  1.3,8.9,-0.9,5.5,10.6,3.0,7.4,-3.8,4.6,1.8,
  9.2,0.0,4.4,-2.6,6.3,11.0,1.9,7.9,-3.9,3.3,
  0.8,8.4,-1.4,5.0,10.1,2.5,6.9,-4.3,4.1,1.3,
  8.7,-0.5,3.9,-3.1,5.8,10.5,1.4,7.4,-4.4,2.8,
  0.3,7.9,-1.9,4.5,9.6,2.0,6.4,-4.8,3.6,0.8,
  8.2,-1.0,3.4,-3.6,5.3,10.0,0.9,6.9,-4.9,2.3,
  -0.2,7.4,-2.4,4.0,9.1,1.5,5.9,-5.3,3.1,0.3,
  7.7,-1.5,2.9,-4.1,4.8,9.5,0.4,6.4,-5.4,1.8,
  -0.7,6.9,-2.9,3.5,8.6,1.0,5.4,-5.8,2.6,-0.2,
  7.2,-2.0,2.4,-4.6,4.3,9.0,-0.1,5.9,-5.9,1.3,
  -1.2,6.4,-3.4,3.0,8.1,0.5,4.9,-6.3,2.1,-0.7,
  6.7,-2.5,1.9,-5.1,3.8,8.5,-0.6,5.4,-6.4,0.8,
  -1.7,5.9,-3.9,2.5,7.6,0.0,4.4,-6.8,1.6,-1.2,
  6.2,-3.0,1.4,-5.6,3.3,8.0,-1.1,4.9,-6.9,0.3,
  -2.2,5.4,-4.4,2.0,7.1,-0.5,3.9,-7.3,1.1,-1.7,
  5.7,-3.5,0.9,-6.1,2.8,7.5,-1.6,4.4,-7.4,-0.2,
  -2.7,4.9,-4.9,1.5,6.6,-1.0,3.4,-7.8,0.6,-2.2,
  5.2,-4.0,0.4,-6.6,2.3,7.0,-2.1,3.9,-7.9,-0.7,
  -3.2,4.4,-5.4,1.0,6.1,-1.5,2.9,-8.3,0.1,-2.7,
  4.7,-4.5,-0.1,-7.1,1.8,6.5,-2.6,3.4,-8.4,-1.2,
  -3.7,3.9,-5.9,0.5,5.6,-2.0,2.4,-8.8,-0.4,-3.2,
  4.2,-5.0,-0.6,-7.6,1.3,6.0,-3.1,2.9,-8.9,-1.7,
  -4.7,2.9,-6.9,-0.5,4.6,-3.0,1.4,-9.8,-1.4,-4.2,
  3.2,-6.0,-1.6,-8.6,0.3,5.0,-4.1,1.9,-9.9,-2.7,
  // still more of the middle
  -5.0,5.5,-0.9,8.7,-6.5,3.1,-3.1,7.3,0.7,4.4,
  4.6,-5.7,7.5,-2.0,2.4,-3.9,9.7,-0.4,6.1,-4.6,
  -5.5,5.0,-1.4,8.2,-7.0,2.6,-3.6,6.8,0.2,3.9,
  4.1,-6.2,7.0,-2.5,1.9,-4.4,9.2,-0.9,5.6,-5.1,
  -6.0,4.5,-1.9,7.7,-7.5,2.1,-4.1,6.3,-0.3,3.4,
  3.6,-6.7,6.5,-3.0,1.4,-4.9,8.7,-1.4,5.1,-5.6,
  -6.5,4.0,-2.4,7.2,-8.0,1.6,-4.6,5.8,-0.8,2.9,
  3.1,-7.2,6.0,-3.5,0.9,-5.4,8.2,-1.9,4.6,-6.1,
  -7.0,3.5,-2.9,6.7,-8.5,1.1,-5.1,5.3,-1.3,2.4,
  2.6,-7.7,5.5,-4.0,0.4,-5.9,7.7,-2.4,4.1,-6.6,
  -7.5,3.0,-3.4,6.2,-9.0,0.6,-5.6,4.8,-1.8,1.9,
  2.1,-8.2,5.0,-4.5,-0.1,-6.4,7.2,-2.9,3.6,-7.1,
  -8.0,2.5,-3.9,5.7,-9.5,0.1,-6.1,4.3,-2.3,1.4,
  1.6,-8.7,4.5,-5.0,-0.6,-6.9,6.7,-3.4,3.1,-7.6,
  -8.5,2.0,-4.4,5.2,-10.0,-0.4,-6.6,3.8,-2.8,0.9,
  1.1,-9.2,4.0,-5.5,-1.1,-7.4,6.2,-3.9,2.6,-8.1,
  -9.0,1.5,-4.9,4.7,-10.5,-0.9,-7.1,3.3,-3.3,0.4,
  0.6,-9.7,3.5,-6.0,-1.6,-7.9,5.7,-4.4,2.1,-8.6,
  -9.5,1.0,-5.4,4.2,-11.0,-1.4,-7.6,2.8,-3.8,-0.1,
  0.1,-10.2,3.0,-6.5,-2.1,-8.4,5.2,-4.9,1.6,-9.1
];

// fitted line: accuracy = c0 + c1 * lookahead
const fitC0 = -12.67;
const fitC1 = -0.54;
const fitRange = [-30, 0];

const xTicks = [-30, -25, -20, -15, -10, -5, 0];
const yTicks = [-20, -10, 0, 10, 20];

const axisInk = '#262626';
const labelFont = '"Liberation Sans", Arial, sans-serif';

const matlabAxes = {
  id: 'matlabAxes',
  beforeDatasetsDraw(chart) {
    const { ctx, chartArea: a, scales: { x, y } } = chart;
    ctx.save();
    ctx.strokeStyle = axisInk;
    ctx.lineWidth = 1;
    ctx.beginPath();
    ctx.moveTo(a.left + 0.5, a.top);
    ctx.lineTo(a.left + 0.5, a.bottom + 0.5);
    ctx.lineTo(a.right, a.bottom + 0.5);
    xTicks.forEach(v => {
      const px = Math.round(x.getPixelForValue(v)) + 0.5;
      ctx.moveTo(px, a.bottom);
      ctx.lineTo(px, a.bottom - 5);
    });
    yTicks.forEach(v => {
      const py = Math.round(y.getPixelForValue(v)) + 0.5;
      ctx.moveTo(a.left, py);
      ctx.lineTo(a.left + 5, py);
    });
    ctx.stroke();
    ctx.restore();
  },
  afterDraw(chart) {
    const { ctx } = chart;
    ctx.save();
    ctx.fillStyle = '#000';
    ctx.textBaseline = 'alphabetic';
    ctx.textAlign = 'center';
    ctx.font = 'bold 36px ' + labelFont;
    ctx.fillText('Sigma5 (\u03c3=5)', 234, 41);

    // c0 / c1 label with subscripts
    ctx.textAlign = 'left';
    const big = '32px ' + labelFont;
    const small = '22px ' + labelFont;
    const parts = [
      ['c', big, 0],
      ['0', small, 7],
      ['=' + fitC0.toFixed(2) + ', c', big, 0],
      ['1', small, 7],
      ['=' + fitC1.toFixed(2), big, 0]
    ];
    let tx = 345;
    parts.forEach(([t, f, dy]) => {
      ctx.font = f;
      ctx.fillText(t, tx, 83 + dy);
      tx += ctx.measureText(t).width;
    });
    ctx.restore();
  }
};

const ctx = document.getElementById('sigmaChart');

new Chart(ctx, {
  type: 'scatter',
  data: {
    datasets: [
      {
        label: 'fit',
        data: fitRange.map(v => ({ x: v, y: fitC0 + fitC1 * v })),
        showLine: true,
        borderColor: '#D95319',
        borderWidth: 5,
        pointRadius: 0,
        order: 0
      },
      {
        label: 'samples',
        data: lookahead.map((v, i) => ({ x: v, y: accuracy[i] })),
        pointStyle: 'circle',
        pointRadius: 2.7,
        borderWidth: 2.3,
        borderColor: '#0072BD',
        backgroundColor: 'rgba(0,0,0,0)',
        clip: false,
        order: 1
      }
    ]
  },
  options: {
    responsive: true,
    maintainAspectRatio: false,
    animation: false,
    events: [],
    layout: { padding: { left: 20, right: 9, top: 56, bottom: 2 } },
    plugins: {
      legend: { display: false },
      tooltip: { enabled: false },
      title: { display: false }
    },
    scales: {
      x: {
        type: 'linear',
        min: -30,
        max: 0,
        afterBuildTicks: s => { s.ticks = xTicks.map(v => ({ value: v })); },
        afterFit: s => { s.height = 72.5; },
        grid: { display: false, drawTicks: false },
        border: { display: false },
        ticks: {
          padding: 7,
          color: axisInk,
          font: { family: labelFont, size: 23, weight: 'bold' },
          maxRotation: 0
        },
        title: {
          display: true,
          text: 'Lookahead Time (minutes)',
          color: axisInk,
          font: { family: labelFont, size: 27, weight: 'bold' },
          padding: { top: 0, bottom: 2 }
        }
      },
      y: {
        type: 'linear',
        min: -20,
        max: 24.6,
        afterBuildTicks: s => { s.ticks = yTicks.map(v => ({ value: v })); },
        afterFit: s => { s.width = 83; },
        grid: { display: false, drawTicks: false },
        border: { display: false },
        ticks: {
          padding: 10,
          color: axisInk,
          font: { family: labelFont, size: 23, weight: 'bold' }
        },
        title: {
          display: true,
          text: 'Accuracy (minutes)',
          color: axisInk,
          font: { family: labelFont, size: 27, weight: 'bold' },
          padding: { top: 4, bottom: 0 }
        }
      }
    }
  },
  plugins: [matlabAxes]
});
</script>
</body>
</html>
